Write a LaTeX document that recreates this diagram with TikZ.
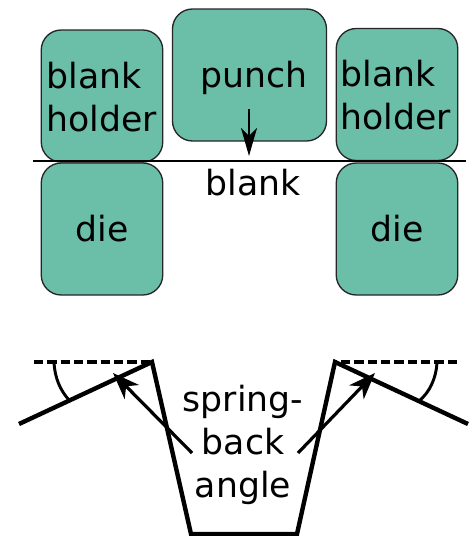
\documentclass[tikz,border=0pt]{standalone}
\usepackage{fontspec}
\setmainfont{DejaVu Sans}
\usetikzlibrary{arrows.meta}
\definecolor{teal0}{RGB}{107,190,168}
\tikzset{
  block/.style={draw=black!85,line width=1pt,fill=teal0,rounded corners=15pt,inner sep=0pt},
  lab/.style={font=\fontsize{26}{32.5}\selectfont,align=center,inner sep=0pt,text=black},
  labl/.style={lab,align=left},
  thick line/.style={line width=3.3pt},
  tip/.style={-{Stealth[length=21pt,width=12pt,inset=6pt]},line width=1.6pt},
  tipb/.style={-{Stealth[length=20pt,width=15pt,inset=6pt]},line width=2.4pt}
}
\begin{document}
\begin{tikzpicture}[x=0.75pt,y=-0.75pt]
\useasboundingbox (0,0) rectangle (471,536);
\fill[white] (0,0) rectangle (471,536);
\node[block,minimum width=121.5*0.75pt,minimum height=132*0.75pt] (bhl) at (102,96) {};
\node[block,minimum width=154*0.75pt,minimum height=132*0.75pt] (pun) at (249.5,75) {};
\node[block,minimum width=121.5*0.75pt,minimum height=132*0.75pt] (bhr) at (397,94.5) {};
\node[block,minimum width=121.5*0.75pt,minimum height=132*0.75pt] (dl) at (102,229) {};
\node[block,minimum width=121.5*0.75pt,minimum height=132*0.75pt] (dr) at (397,229) {};
\coordinate (b1) at (33,161);
\coordinate (b2) at (466,161);
\draw[line width=1.6pt] (b1) -- (b2);
\coordinate (a1) at (249,109);
\coordinate (a2) at (249,156);
\draw[tip] (a1) -- (a2);
\node[labl] (t1) at (102,97) {blank\\holder};
\node[lab] (t2) at (254,78) {punch};
\node[labl] (t3) at (396,95) {blank\\holder};
\node[lab] (t4) at (253,183) {blank};
\node[lab] (t5) at (102,229) {die};
\node[lab] (t6) at (397,229) {die};
\coordinate (p1) at (152,362);
\coordinate (p2) at (191,534);
\coordinate (p3) at (297,534);
\coordinate (p4) at (335,362);
\coordinate (l1) at (19,424);
\coordinate (r1) at (468,424);
\draw[thick line,line join=miter] (l1) -- (p1) -- (p2) -- (p3) -- (p4) -- (r1);
\coordinate (d1) at (34,362);
\coordinate (d2) at (457,362);
\draw[line width=3.2pt,dash pattern=on 7pt off 3pt] (d1) -- (p1);
\draw[line width=3.2pt,dash pattern=on 7pt off 3pt] (d2) -- (p4);
\coordinate (c1) at (54,363);
\coordinate (c2) at (69,400);
\draw[line width=2.2pt] (c1) .. controls (55,378) and (60,390) .. (c2);
\coordinate (c3) at (437,363);
\coordinate (c4) at (419,401);
\draw[line width=2.2pt] (c3) .. controls (436,378) and (430,392) .. (c4);
\coordinate (e1) at (192,453);
\coordinate (e2) at (113,373);
\draw[tipb] (e1) -- (e2);
\coordinate (f1) at (298,453);
\coordinate (f2) at (375,373);
\draw[tipb] (f1) -- (f2);
\node[lab] (t7) at (243,445) {spring-\\back\\angle};
\end{tikzpicture}
\end{document}
